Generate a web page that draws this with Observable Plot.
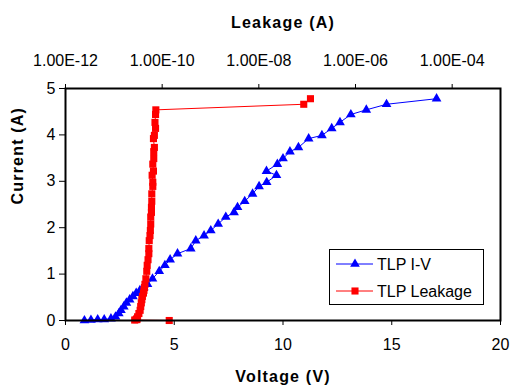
<!DOCTYPE html>
<html><head><meta charset="utf-8">
<script src="https://cdn.jsdelivr.net/npm/d3@7"></script>
<script src="https://cdn.jsdelivr.net/npm/@observablehq/plot@0.6"></script>
<style>body{margin:0;background:#fff;font-family:"Liberation Sans",Arial,sans-serif}</style>
</head><body><div id="chart"></div>
<script>
// TLP I-V data
const voltage = [0.87,1.17,1.48,1.78,2.09,2.30,2.45,2.55,2.68,2.80,2.95,3.10,3.25,3.42,3.60,3.77,4.00,4.31,4.57,4.81,5.15,5.76,5.99,6.37,6.68,7.02,7.37,7.75,7.91,8.24,8.60,8.90,9.25,9.70,9.24,9.74,10.00,10.32,10.71,11.18,11.79,12.24,12.62,13.12,13.83,14.76,17.06];
const current = [0,0.01,0.02,0.02,0.04,0.08,0.15,0.22,0.30,0.38,0.45,0.52,0.59,0.65,0.71,0.78,0.90,1.06,1.19,1.31,1.44,1.55,1.72,1.83,1.94,2.08,2.23,2.33,2.44,2.57,2.73,2.89,2.98,3.13,3.22,3.37,3.49,3.64,3.73,3.92,3.99,4.14,4.27,4.44,4.54,4.66,4.78];
// TLP leakage (A), one per pulse
const leakage = [1.4e-10,2.7e-11,2.9e-11,3.0e-11,3.0e-11,3.1e-11,3.3e-11,3.5e-11,3.6e-11,3.7e-11,3.8e-11,3.9e-11,4.1e-11,4.2e-11,4.3e-11,4.4e-11,4.6e-11,4.8e-11,4.9e-11,5.1e-11,5.3e-11,5.3e-11,5.4e-11,5.6e-11,5.7e-11,5.8e-11,5.8e-11,6.0e-11,6.0e-11,6.1e-11,6.1e-11,6.4e-11,6.4e-11,6.2e-11,6.6e-11,6.4e-11,6.7e-11,6.7e-11,6.9e-11,6.6e-11,6.9e-11,7.3e-11,7.1e-11,7.3e-11,7.4e-11,8.5e-8,1.17e-7];

const xTicks = [0,5,10,15,20];
const yTicks = [0,1,2,3,4,5];
const leakTicks = [1e-12,1e-10,1e-8,1e-6,1e-4];
const leakDomain = [1e-12,1e-3];
const seriesNames = ["TLP I-V","TLP Leakage"];

const xDomain = [0,20];
const leakToX = d3.scaleLog().domain(leakDomain).range(xDomain);
const fmtLeak = d => d.toExponential(2).toUpperCase().replace(/E-(\d)$/, "E-0$1");

const iv = voltage.map((v,k) => ({v, i: current[k]}));
const lk = leakage.map((l,k) => ({x: leakToX(l), i: current[k]}));

const font = "Liberation Sans, Arial, sans-serif";
const chart = Plot.plot({
  width: 512, height: 389,
  marginLeft: 65, marginRight: 12, marginTop: 88, marginBottom: 69,
  style: {fontFamily: font, fontSize: "16px", background: "white", color: "black"},
  x: {domain: xDomain},
  y: {domain: [0,5]},
  marks: [
    Plot.axisX({anchor: "bottom", ticks: xTicks, tickSize: 5, tickPadding: 13, label: null, fontSize: 16}),
    Plot.axisX(leakTicks.map(d => leakToX(d)), {anchor: "top", tickSize: 5, tickPadding: 18, label: null, fontSize: 16,
      tickFormat: d => fmtLeak(leakToX.invert(d))}),
    Plot.axisY({ticks: yTicks, tickSize: 6, tickPadding: 4, label: null, fontSize: 16, tickFormat: d => String(d)}),
    Plot.line(iv, {x: "v", y: "i", stroke: "#0000ff", strokeWidth: 1}),
    Plot.dot(iv, {x: "v", y: "i", symbol: "triangle", fill: "#0000ff", r: 3.6}),
    Plot.line(lk, {x: "x", y: "i", stroke: "#ff0000", strokeWidth: 1}),
    Plot.dot(lk, {x: "x", y: "i", symbol: "square", fill: "#ff0000", r: 4}),
    Plot.frame({stroke: "black", strokeWidth: 2}),
    Plot.text(["Voltage (V)"], {frameAnchor: "bottom", dy: 61, fontWeight: "bold", fontSize: 16}),
    Plot.text(["Leakage (A)"], {frameAnchor: "top", dy: -72, fontWeight: "bold", fontSize: 16}),
    Plot.text(["Current (A)"], {frameAnchor: "left", dx: -48, rotate: -90, fontWeight: "bold", fontSize: 16})
  ]
});
document.getElementById("chart").appendChild(chart);

// legend and title spacing
const svg = d3.select(chart);
svg.selectAll("text").each(function(){
  const t = this.textContent;
  if (t === "Voltage (V)" || t === "Leakage (A)" || t === "Current (A)") d3.select(this).attr("letter-spacing", "1.2px");
});
const lg = svg.append("g").attr("font-family", font).attr("font-size", 16).attr("text-anchor", "start");
lg.append("rect").attr("x", 329.5).attr("y", 249.5).attr("width", 154).attr("height", 55)
  .attr("fill", "white").attr("stroke", "black").attr("stroke-width", 1);
const colors = ["#0000ff", "#ff0000"];
const syms = [d3.symbolTriangle, d3.symbolSquare];
const sizes = [Math.PI*3.6*3.6, Math.PI*16];
seriesNames.forEach((name, k) => {
  const cy = 264 + k*27;
  lg.append("line").attr("x1", 336).attr("x2", 373).attr("y1", cy).attr("y2", cy).attr("stroke", colors[k]);
  lg.append("path").attr("d", d3.symbol(syms[k], sizes[k])()).attr("transform", `translate(355,${cy})`).attr("fill", colors[k]);
  lg.append("text").attr("x", 377).attr("y", cy).attr("dy", "0.35em").text(name);
});
</script>
</body></html>
